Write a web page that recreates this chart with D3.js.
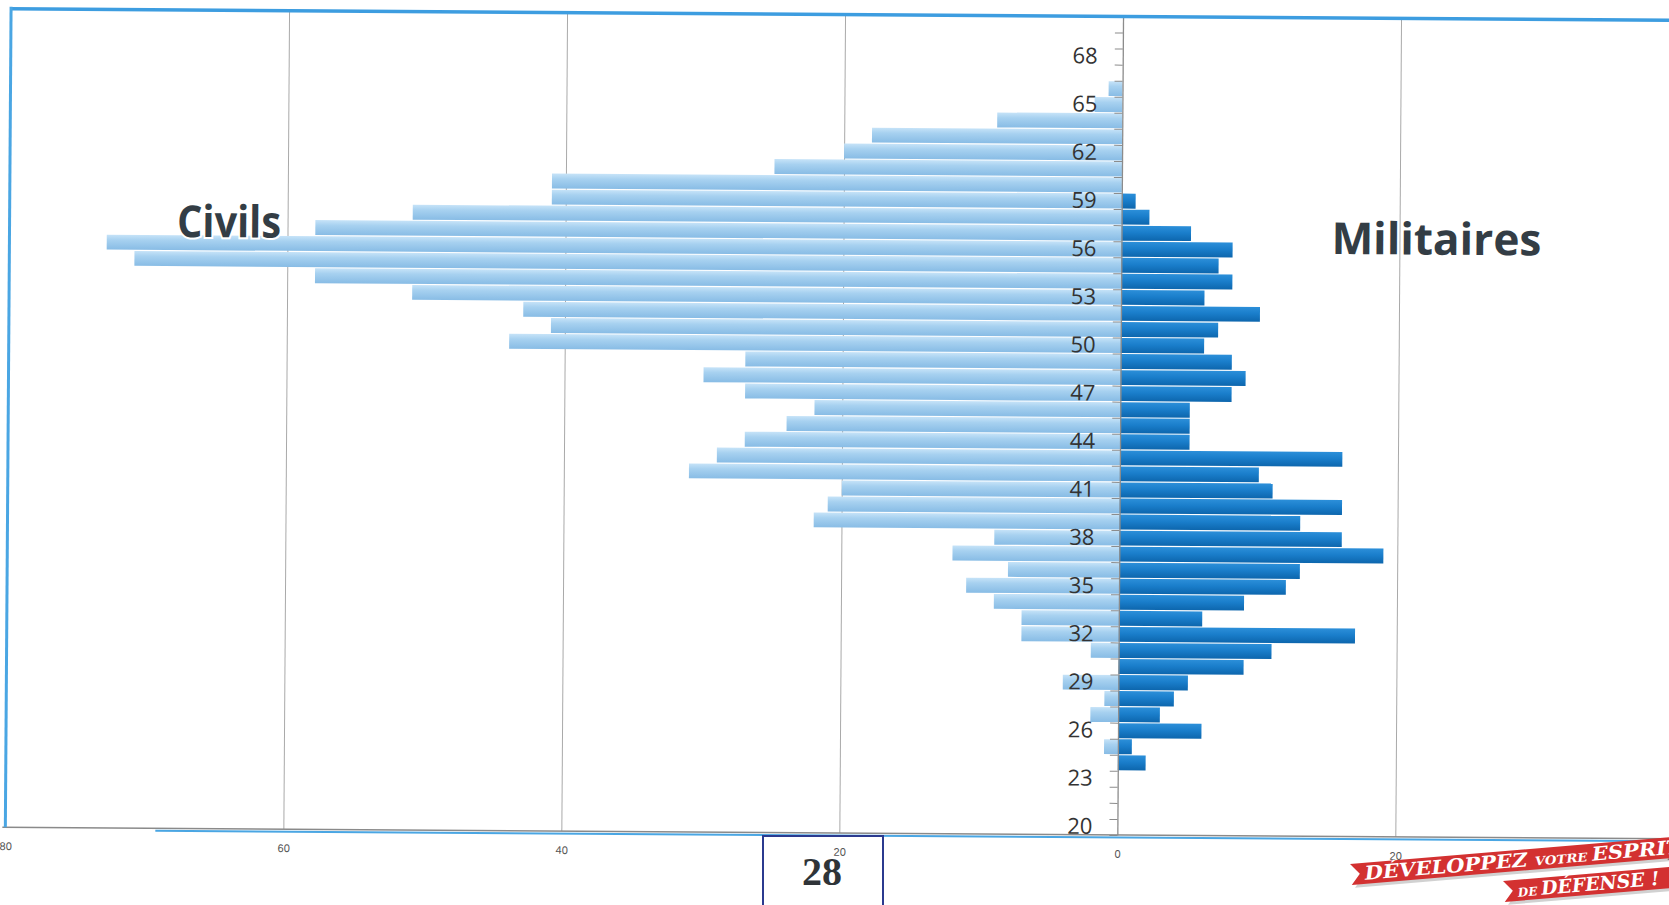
<!DOCTYPE html>
<html><head><meta charset="utf-8">
<script src="https://cdnjs.cloudflare.com/ajax/libs/d3/7.8.5/d3.min.js"></script>
<style>
html,body{margin:0;padding:0;background:#fff;}
svg{display:block;}
</style></head>
<body>
<script>
// ---- data ----
const ages = [20,21,22,23,24,25,26,27,28,29,30,31,32,33,34,35,36,37,38,39,40,41,42,43,44,45,46,47,48,49,50,51,52,53,54,55,56,57,58,59,60,61,62,63,64,65,66,67,68,69,70];
const civils = [0,0,0,0,0,1,0,2,1,4, 0,2,7,7,9,11,8,12,9,22, 21,20,31,29,27,24,22,27,30,27, 44,41,43,51,58,71,73,58,51,41, 41,25,20,18,9,2,1,0,0,0, 0];
const militaires = [0,0,0,0,2,1,6,3,4,5, 9,11,17,6,9,12,13,19,16,13, 16,11,10,16,5,5,5,8,9,8, 6,7,10,6,8,7,8,5,2,1, 0,0,0,0,0,0,0,0,0,0, 0];
const ageLabels = [20,23,26,29,32,35,38,41,44,47,50,53,56,59,62,65,68];
const xTicks = [-80,-60,-40,-20,0,20,40];
const seriesNames = ["Civils","Militaires"];
const pageNumber = "28";

// ---- layout ----
const W = 1669, H = 905;
const plotTop = 14.5, plotBottom = 833;
const svg = d3.select("body").append("svg").attr("width", W).attr("height", H);

const defs = svg.append("defs");
const gc = defs.append("linearGradient").attr("id","gCiv").attr("x1",0).attr("y1",0).attr("x2",0).attr("y2",1);
gc.append("stop").attr("offset","0").attr("stop-color","#c6e3f8");
gc.append("stop").attr("offset","0.35").attr("stop-color","#a7d1f0");
gc.append("stop").attr("offset","1").attr("stop-color","#88bce5");
const gm = defs.append("linearGradient").attr("id","gMil").attr("x1",0).attr("y1",0).attr("x2",0).attr("y2",1);
gm.append("stop").attr("offset","0").attr("stop-color","#2c8fd9");
gm.append("stop").attr("offset","0.45").attr("stop-color","#1a7ecb");
gm.append("stop").attr("offset","1").attr("stop-color","#0d66ad");

const g = svg.append("g").attr("transform","rotate(0.4 834 450)");

const x = d3.scaleLinear().domain([-80, 40]).range([8, 1676]);
const y = d3.scaleBand().domain(ages).range([plotBottom, plotTop]).paddingInner(0.07).paddingOuter(0.035);
const yLin = d3.scaleLinear().domain([ages[0]-0.5, ages[ages.length-1]+0.5]).range([plotBottom, plotTop]);

// gridlines
const grid = g.append("g").attr("transform",`translate(0,${plotBottom})`)
  .call(d3.axisBottom(x).tickValues(xTicks.filter(v=>v!==0 && v!==-80)).tickSize(-(plotBottom-plotTop)).tickFormat(""));
grid.select(".domain").remove();
grid.selectAll("line").attr("stroke","#a9a9a9").attr("stroke-width",1);

// x labels
const xl = g.append("g").attr("transform",`translate(0,${plotBottom})`)
  .call(d3.axisBottom(x).tickValues(xTicks).tickSize(0).tickPadding(15).tickFormat(d=>Math.abs(d)));
xl.select(".domain").remove();
xl.selectAll("text").attr("font-family","'Liberation Sans Narrow','Liberation Sans',sans-serif").attr("font-size",11).attr("fill","#555");

// bars
g.append("g").selectAll("rect").data(ages.map((a,i)=>({a, v:civils[i]})).filter(d=>d.v>0))
  .join("rect")
  .attr("x", d=>x(-d.v)).attr("width", d=>x(0)-x(-d.v))
  .attr("y", d=>y(d.a)).attr("height", y.bandwidth())
  .attr("fill","url(#gCiv)");
g.append("g").selectAll("rect").data(ages.map((a,i)=>({a, v:militaires[i]})).filter(d=>d.v>0))
  .join("rect")
  .attr("x", x(0)).attr("width", d=>x(d.v)-x(0))
  .attr("y", d=>y(d.a)).attr("height", y.bandwidth())
  .attr("fill","url(#gMil)");

// vertical axis: boundary ticks
const yt = g.append("g").attr("transform",`translate(${x(0)},0)`)
  .call(d3.axisLeft(yLin).tickValues(ages.concat([ages[ages.length-1]+1]).map(a=>a-0.5)).tickSize(8).tickFormat("").tickSizeOuter(0));
yt.selectAll("line").attr("stroke","#8c8c8c");
yt.select(".domain").attr("stroke","#8c8c8c").attr("stroke-width",1.3);
// vertical axis labels
const ylab = g.append("g").attr("transform",`translate(${x(0)},0)`)
  .call(d3.axisLeft(y).tickValues(ageLabels).tickSize(0).tickPadding(25));
ylab.select(".domain").remove();
ylab.selectAll("text").attr("font-family","'Open Sans',sans-serif").attr("font-size",22).attr("fill","#333");

// frame lines
g.append("line").attr("x1",x(-80)-3).attr("x2",W+20).attr("y1",plotBottom).attr("y2",plotBottom).attr("stroke","#8a8a8a").attr("stroke-width",1.5);
g.append("line").attr("x1",x(-80)+150).attr("x2",W+20).attr("y1",plotBottom+2.5).attr("y2",plotBottom+2.5).attr("stroke","#4aa6e3").attr("stroke-width",2);
g.append("line").attr("x1",x(-80)).attr("x2",W+20).attr("y1",plotTop).attr("y2",plotTop).attr("stroke","#3d9de0").attr("stroke-width",3.5);
g.append("line").attr("x1",x(-80)).attr("x2",x(-80)).attr("y1",plotTop-2).attr("y2",plotBottom).attr("stroke","#4aa6e3").attr("stroke-width",3);

// series labels
g.append("text").text(seriesNames[0]).attr("x",175.5).attr("y",241.5)
  .attr("font-family","'Open Sans',sans-serif").attr("font-weight","bold").attr("font-size",44)
  .attr("textLength",104).attr("lengthAdjust","spacingAndGlyphs")
  .attr("fill","#333d45").attr("stroke","#fff").attr("stroke-width",4).attr("paint-order","stroke");
g.append("text").text(seriesNames[1]).attr("x",1330).attr("y",250.5)
  .attr("font-family","'Open Sans',sans-serif").attr("font-weight","bold").attr("font-size",44)
  .attr("textLength",210).attr("lengthAdjust","spacingAndGlyphs")
  .attr("fill","#333d45");

// page number box
svg.append("rect").attr("x",763).attr("y",836).attr("width",120).attr("height",90)
  .attr("fill","none").attr("stroke","#2b3a8f").attr("stroke-width",2);
svg.append("text").text(pageNumber).attr("x",822).attr("y",885).attr("text-anchor","middle")
  .attr("font-family","'Liberation Serif',serif").attr("font-weight","bold").attr("font-size",40).attr("fill","#2f3438");

// ribbon
function ribbon(tx, ty, len, parts, tlen){
  const r = svg.append("g").attr("transform",`translate(${tx},${ty}) rotate(-4.8)`);
  const pts = [[0,0],[len,0],[len,21],[0,21],[9,10.5]];
  r.append("polygon").attr("points", pts.map(p=>[p[0]+3,p[1]+3].join(",")).join(" ")).attr("fill","#9a9a9a").attr("opacity",0.45);
  r.append("polygon").attr("points", pts.map(p=>p.join(",")).join(" ")).attr("fill","#d33131");
  const t = r.append("text").attr("x",14).attr("y",17).attr("fill","#fff")
    .attr("font-family","'DejaVu Serif',serif").attr("font-weight","bold").attr("font-style","italic")
    .attr("textLength",tlen).attr("lengthAdjust","spacingAndGlyphs");
  parts.forEach(p=>t.append("tspan").text(p[0]).attr("font-size",p[1]));
}
ribbon(1350, 864, 340, [["DÉVELOPPEZ ",19],["VOTRE ",12],["ESPRIT",19]], 318);
ribbon(1503, 881, 170, [["DE ",12],["DÉFENSE !",19]], 142);
</script>
</body></html>
